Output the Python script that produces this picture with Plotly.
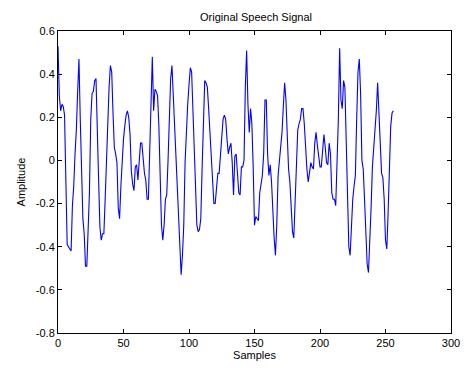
import plotly.graph_objects as go

# Amplitude values (one per sample)
amplitude = [
    0.53, 0.30, 0.23, 0.26, 0.25, 0.21, -0.09, -0.39, -0.40, -0.41,
    -0.42, -0.21, -0.12, 0.03, 0.14, 0.32, 0.47, 0.19, -0.07, -0.27,
    -0.34, -0.49, -0.49, -0.33, -0.15, 0.19, 0.31, 0.32, 0.37, 0.38,
    0.19, -0.09, -0.31, -0.37, -0.34, -0.34, -0.18, 0.03, 0.19, 0.34,
    0.44, 0.41, 0.22, 0.06, 0.03, -0.01, -0.22, -0.27, -0.12, 0.03,
    0.10, 0.16, 0.21, 0.23, 0.20, 0.12, -0.05, -0.11, -0.14, -0.03,
    -0.02, -0.09, 0.00, 0.08, 0.08, -0.01, -0.06, -0.09, -0.18, -0.18,
    0.05, 0.30, 0.48, 0.23, 0.33, 0.32, 0.30, 0.16, -0.07, -0.30,
    -0.37, -0.30, -0.18, -0.16, 0.00, 0.23, 0.38, 0.44, 0.31, 0.14,
    0.00, -0.07, -0.21, -0.37, -0.53, -0.44, -0.30, -0.01, 0.14, 0.26,
    0.35, 0.43, 0.41, 0.26, 0.06, -0.12, -0.30, -0.33, -0.32, -0.27,
    -0.04, 0.22, 0.37, 0.36, 0.34, 0.24, 0.13, 0.02, -0.12, -0.20,
    -0.20, -0.13, -0.06, -0.06, 0.03, 0.13, 0.19, 0.21, 0.19, 0.10,
    0.03, 0.06, 0.08, -0.01, -0.16, 0.02, 0.03, -0.06, -0.15, -0.16,
    -0.03, -0.03, 0.00, 0.34, 0.51, 0.26, 0.13, 0.24, 0.17, -0.03,
    -0.30, -0.26, -0.27, -0.28, -0.15, -0.10, -0.07, 0.03, 0.28, 0.28,
    0.03, -0.07, -0.02, -0.10, -0.27, -0.36, -0.44, -0.30, -0.07, 0.00,
    0.06, 0.13, 0.25, 0.36, 0.28, 0.06, -0.04, -0.10, -0.24, -0.33,
    -0.36, -0.18, 0.00, 0.14, 0.17, 0.19, 0.24, 0.24, 0.17, 0.05,
    -0.04, -0.10, -0.05, -0.01, -0.03, -0.04, 0.08, 0.13, 0.07, 0.03,
    -0.03, -0.03, 0.07, 0.12, 0.06, -0.01, -0.02, 0.08, 0.03, -0.15,
    -0.18, -0.18, -0.21, -0.04, 0.19, 0.52, 0.28, 0.24, 0.37, 0.34,
    0.06, -0.25, -0.40, -0.44, -0.30, -0.18, -0.12, -0.07, 0.19, 0.41,
    0.47, 0.31, 0.00, -0.04, -0.18, -0.34, -0.48, -0.52, -0.39, -0.22,
    -0.03, 0.06, 0.10, 0.23, 0.36, 0.22, 0.03, -0.06, -0.08, -0.18,
    -0.37, -0.41, -0.24, 0.00, 0.16, 0.22, 0.23,
]
samples = list(range(len(amplitude)))

x_tick_values = [0, 50, 100, 150, 200, 250, 300]
x_tick_labels = ["0", "50", "100", "150", "200", "250", "300"]
y_tick_values = [-0.8, -0.6, -0.4, -0.2, 0, 0.2, 0.4, 0.6]
y_tick_labels = ["-0.8", "-0.6", "-0.4", "-0.2", "0", "0.2", "0.4", "0.6"]

font_family = "Liberation Sans, Arial, sans-serif"

fig = go.Figure()
fig.add_trace(go.Scatter(
    x=samples, y=amplitude, mode="lines",
    line=dict(color="#0000ff", width=1.1),
    hoverinfo="skip", showlegend=False,
))

axis_common = dict(
    showline=True, linecolor="black", linewidth=1, mirror="ticks",
    ticks="inside", ticklen=4, tickcolor="black", tickwidth=1,
    showgrid=False, zeroline=False,
    tickfont=dict(family=font_family, size=11, color="black"),
)

# page body has an 8px default margin, so the figure is sized to fit
fig.update_layout(
    width=464, height=364,
    margin=dict(l=50, r=15, t=23, b=35),
    paper_bgcolor="white", plot_bgcolor="white",
    font=dict(family=font_family, size=11, color="black"),
    title=dict(text="Original Speech Signal", x=0.5345, xanchor="center",
               y=0.976, yanchor="middle",
               font=dict(family=font_family, size=11, color="black")),
    xaxis=dict(range=[0, 300], tickvals=x_tick_values, ticktext=x_tick_labels,
               title=dict(text="Samples", standoff=3,
                          font=dict(family=font_family, size=11)),
               **axis_common),
    yaxis=dict(range=[-0.8, 0.6], tickvals=y_tick_values, ticktext=y_tick_labels,
               title=dict(text="Amplitude", standoff=7,
                          font=dict(family=font_family, size=11)),
               **axis_common),
)

fig.write_html("out.html", config={"displayModeBar": False})
